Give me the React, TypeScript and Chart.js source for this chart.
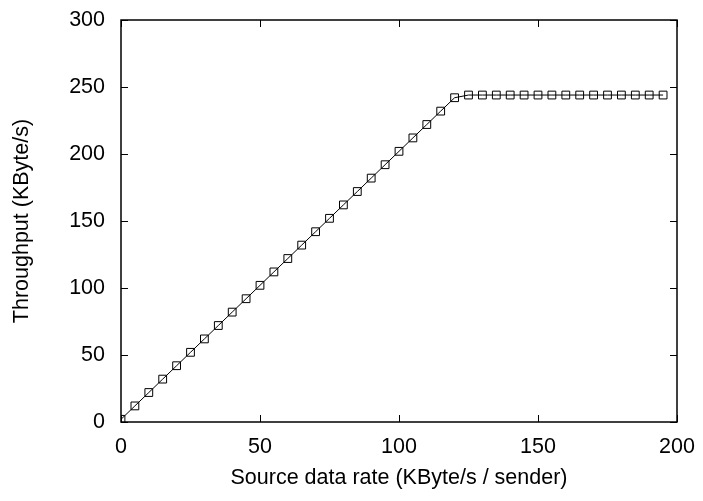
import React, { useEffect, useRef } from "react";
import { Chart, registerables } from "chart.js";

Chart.register(...registerables);

const sourceRates = [
  0, 5, 10, 15, 20, 25, 30, 35, 40, 45, 50, 55, 60, 65, 70, 75, 80, 85, 90, 95,
  100, 105, 110, 115, 120, 125, 130, 135, 140, 145, 150, 155, 160, 165, 170, 175,
  180, 185, 190, 195,
];
const throughput = [
  2, 12, 22, 32, 42, 52, 62, 72, 82, 92, 102, 112, 122, 132, 142, 152, 162, 172,
  182, 192, 202, 212, 222, 232, 242, 244, 244, 244, 244, 244, 244, 244, 244, 244,
  244, 244, 244, 244, 244, 244,
];
const xTicks = [0, 50, 100, 150, 200];
const yTicks = [0, 50, 100, 150, 200, 250, 300];

const FONT = "'Liberation Sans', Arial, Helvetica, sans-serif";
const FS = 21.5;

const framePlugin = {
  id: "frame",
  afterDraw(chart: any) {
    const { ctx, chartArea } = chart;
    const { left, right, top, bottom } = chartArea;
    const xs = chart.scales.x;
    const ys = chart.scales.y;
    ctx.save();
    ctx.strokeStyle = "#000";
    ctx.lineWidth = 1.5;
    ctx.strokeRect(left, top, right - left, bottom - top);
    ctx.lineWidth = 1;
    const len = 7;
    ctx.beginPath();
    xTicks.forEach((v) => {
      const p = Math.round(xs.getPixelForValue(v)) + 0.5;
      ctx.moveTo(p, bottom);
      ctx.lineTo(p, bottom - len);
      ctx.moveTo(p, top);
      ctx.lineTo(p, top + len);
    });
    yTicks.forEach((v) => {
      const p = Math.round(ys.getPixelForValue(v)) + 0.5;
      ctx.moveTo(left, p);
      ctx.lineTo(left + len, p);
      ctx.moveTo(right, p);
      ctx.lineTo(right - len, p);
    });
    ctx.stroke();
    ctx.restore();
  },
};

export default function App() {
  const ref = useRef<HTMLCanvasElement | null>(null);
  useEffect(() => {
    document.body.style.margin = "0";
    if (!ref.current) return;
    const chart = new Chart(ref.current, {
      type: "scatter",
      data: {
        datasets: [
          {
            data: sourceRates.map((x, i) => ({ x, y: throughput[i] })),
            showLine: true,
            borderColor: "#000",
            borderWidth: 1,
            pointStyle: "rect",
            pointRadius: 5.5,
            pointBorderWidth: 1,
            pointBorderColor: "#000",
            pointBackgroundColor: "rgba(0,0,0,0)",
          },
        ],
      },
      options: {
        animation: false,
        responsive: false,
        layout: { padding: { left: 0, right: 26, top: 20, bottom: 0 } },
        plugins: { legend: { display: false }, tooltip: { enabled: false } },
        scales: {
          x: {
            type: "linear",
            min: 0,
            max: 200,
            afterBuildTicks: (s: any) => {
              s.ticks = xTicks.map((v) => ({ value: v }));
            },
            afterFit: (s: any) => {
              s.height = 79;
              s.paddingLeft = 0;
              s.paddingRight = 0;
            },
            grid: { display: false, drawTicks: false },
            border: { display: false },
            ticks: {
              color: "#000",
              font: { family: FONT, size: FS },
              padding: 12,
              maxRotation: 0,
            },
            title: {
              display: true,
              text: "Source data rate (KByte/s / sender)",
              color: "#000",
              font: { family: FONT, size: FS },
              padding: { top: 4, bottom: 10 },
            },
          },
          y: {
            type: "linear",
            min: 0,
            max: 300,
            afterBuildTicks: (s: any) => {
              s.ticks = yTicks.map((v) => ({ value: v }));
            },
            afterFit: (s: any) => {
              s.width = 121;
              s.paddingTop = 0;
              s.paddingBottom = 0;
            },
            grid: { display: false, drawTicks: false },
            border: { display: false },
            ticks: {
              color: "#000",
              font: { family: FONT, size: FS },
              padding: 16,
            },
            title: {
              display: true,
              text: "Throughput (KByte/s)",
              color: "#000",
              font: { family: FONT, size: FS },
              padding: { top: 9, bottom: 0 },
            },
          },
        },
      },
      plugins: [framePlugin],
    });
    return () => chart.destroy();
  }, []);
  return <canvas ref={ref} width={703} height={501} />;
}
